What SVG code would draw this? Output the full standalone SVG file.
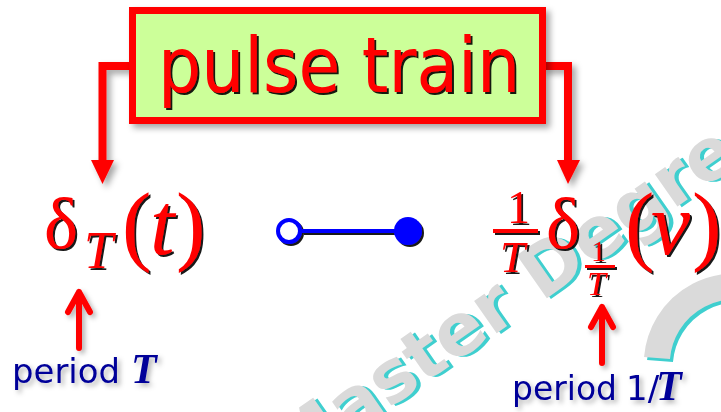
<svg xmlns="http://www.w3.org/2000/svg" width="721" height="412" viewBox="0 0 721 412">
  <defs>
    <filter id="softShadow" x="-20%" y="-20%" width="140%" height="140%">
      <feDropShadow dx="4" dy="4" stdDeviation="3" flood-color="#000" flood-opacity="0.35"/>
    </filter>
    <filter id="inkShadow" x="-20%" y="-20%" width="140%" height="140%">
      <feDropShadow dx="2" dy="2" stdDeviation="0.6" flood-color="#000" flood-opacity="0.9"/>
    </filter>
    <filter id="labelShadow" x="-20%" y="-20%" width="140%" height="140%">
      <feDropShadow dx="3" dy="3" stdDeviation="2.5" flood-color="#000" flood-opacity="0.3"/>
    </filter>
  </defs>
  <style>
    .wm { font-family: "DejaVu Sans", sans-serif; font-weight: bold; font-size: 72px; }
    .title { font-family: "Comic Sans MS", "DejaVu Sans", sans-serif; font-size: 76px; fill: #ff0000; }
    .math { font-family: "Liberation Serif", "Times New Roman", serif; fill: #ff0000; }
    .it { font-style: italic; }
    .lbl { font-family: "DejaVu Sans", "Verdana", sans-serif; font-size: 34px; fill: #000099; }
    .lblT { font-family: "Liberation Serif", serif; font-style: italic; font-weight: bold; font-size: 42px; fill: #000099; }
    .wire { fill: none; stroke: #ff0000; stroke-width: 8; stroke-linejoin: miter; }
    .up { fill: none; stroke: #ff0000; stroke-width: 6; stroke-linecap: round; stroke-linejoin: round; }
    .bar { fill: #ff0000; }
  </style>

  <rect width="721" height="412" fill="#ffffff"/>

  <!-- background watermark -->
  <g id="watermark">
    <g transform="translate(290,478) rotate(-35)">
      <text class="wm" fill="#3fcfcf" x="3" y="3">Master Degree</text>
      <text class="wm" fill="#dadada" x="0" y="0">Master Degree</text>
    </g>
    <path d="M 660 361 A 78 78 0 0 1 777 300" fill="none" stroke="#3fcfcf" stroke-width="26"/>
    <path d="M 657 358 A 78 78 0 0 1 774 297" fill="none" stroke="#dadada" stroke-width="26"/>
  </g>

  <!-- connectors -->
  <g id="connectors">
    <g filter="url(#softShadow)">
      <polyline class="wire" points="133,66 102.5,66 102.5,164"/>
      <polygon points="91,160 114,160 102.5,184" fill="#ff0000"/>
      <polyline class="wire" points="542,66 568,66 568,164"/>
      <polygon points="557,160 580,160 568,184" fill="#ff0000"/>
    </g>
    <g filter="url(#labelShadow)">
      <path class="up" d="M 79 348 L 79 292 M 68 312 L 79 292 L 90 312"/>
      <path class="up" d="M 602 363 L 602 307 M 591 327 L 602 307 L 613 327"/>
    </g>
    <g id="correspondence" filter="url(#inkShadow)">
      <line x1="302" y1="231" x2="396" y2="231" stroke="#0000ff" stroke-width="4"/>
      <circle cx="289" cy="231" r="11" fill="#ffffff" stroke="#0000ff" stroke-width="4"/>
      <circle cx="408" cy="231" r="14" fill="#0000ff"/>
    </g>
  </g>

  <!-- title node -->
  <g id="pulse-train">
    <rect x="132.5" y="10.5" width="410" height="110" fill="#ccff99" stroke="#ff0000" stroke-width="7" filter="url(#softShadow)"/>
    <text class="title" x="158" y="92" textLength="362" lengthAdjust="spacingAndGlyphs" filter="url(#inkShadow)">pulse train</text>
  </g>

  <!-- time-domain comb -->
  <g id="time-comb" filter="url(#inkShadow)">
    <text class="math" x="44" y="248" font-size="72">δ</text>
    <text class="math it" x="84" y="268" font-size="52">T</text>
    <text class="math" x="122" y="254" font-size="88">(</text>
    <text class="math it" x="150" y="254" font-size="88">t</text>
    <text class="math" x="176" y="254" font-size="88">)</text>
  </g>

  <!-- frequency-domain comb -->
  <g id="freq-comb" filter="url(#inkShadow)">
    <text class="math" x="507" y="223" font-size="46">1</text>
    <rect class="bar" x="493" y="229" width="45" height="4"/>
    <text class="math it" x="500" y="272" font-size="45">T</text>
    <text class="math" x="546" y="248" font-size="72">δ</text>
    <text class="math" x="591" y="261" font-size="30">1</text>
    <rect class="bar" x="585" y="265" width="30" height="3"/>
    <text class="math it" x="587" y="295" font-size="34">T</text>
    <text class="math" x="625" y="254" font-size="88">(</text>
    <text class="math it" x="651" y="254" font-size="88">ν</text>
    <text class="math" x="692" y="254" font-size="88">)</text>
  </g>

  <!-- period labels -->
  <g id="period-T" filter="url(#labelShadow)">
    <text class="lbl" x="12" y="383" textLength="108" lengthAdjust="spacingAndGlyphs">period</text>
    <text class="lblT" x="131" y="383">T</text>
  </g>
  <g id="period-1-over-T" filter="url(#labelShadow)">
    <text class="lbl" x="512" y="400" textLength="105" lengthAdjust="spacingAndGlyphs">period</text>
    <text class="lbl" x="626" y="400">1/</text>
    <text class="lblT" x="656" y="400">T</text>
  </g>
</svg>
